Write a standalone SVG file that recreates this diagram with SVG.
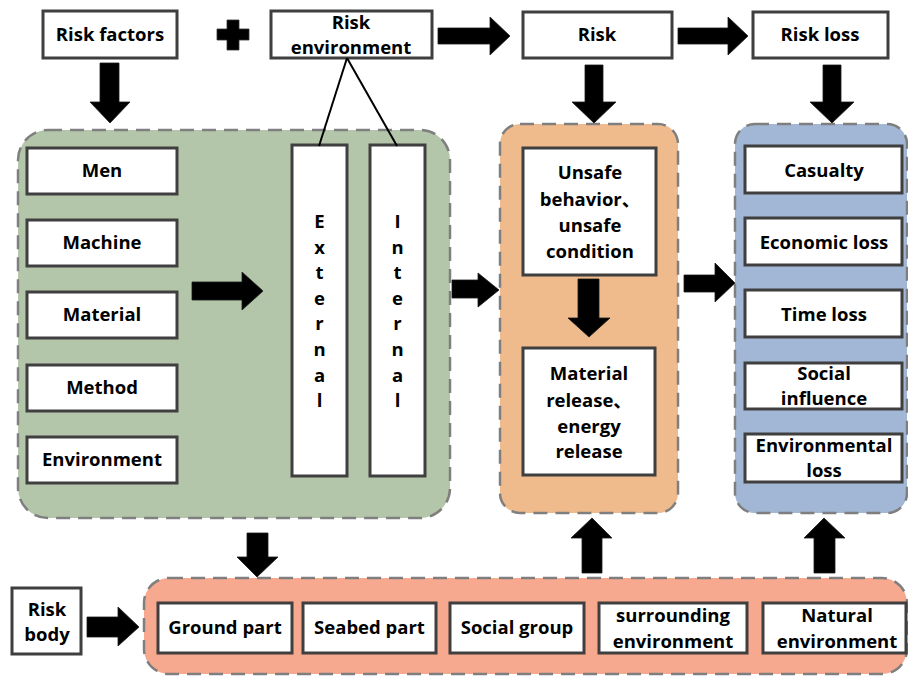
<svg xmlns="http://www.w3.org/2000/svg" width="908" height="676" viewBox="0 0 908 676">
  <style>
    .box { fill: #ffffff; stroke: #3f3f3f; stroke-width: 3; }
    .panel { stroke: #7f7f7f; stroke-width: 2.5; stroke-dasharray: 14 8; }
    .arrow { fill: #000000; stroke: #1a1a1a; stroke-width: 0.8; stroke-linejoin: miter; }
    .link { fill: none; stroke: #000000; stroke-width: 2; }
    text { font-family: "Open Sans", "Noto Sans CJK SC", sans-serif; font-weight: bold; font-size: 18.5px; fill: #000000; text-anchor: middle; }
  </style>

  <rect x="0" y="0" width="908" height="676" fill="#ffffff"/>

  <!-- background panels -->
  <g id="panel-factors">
    <rect class="panel" x="18" y="130" width="432" height="388" rx="30" fill="#b4c6aa"/>
  </g>
  <g id="panel-risk">
    <rect class="panel" x="500" y="124" width="178" height="389" rx="20" fill="#f0bb8c"/>
  </g>
  <g id="panel-loss">
    <rect class="panel" x="735" y="124" width="172" height="389" rx="20" fill="#a2b7d5"/>
  </g>
  <g id="panel-body">
    <rect class="panel" x="144" y="578" width="763" height="96" rx="25" fill="#f7a98f"/>
  </g>

  <!-- top row -->
  <g id="risk-factors">
    <rect class="box" x="43" y="11" width="134" height="47"/>
    <text x="110" y="41">Risk factors</text>
  </g>
  <g id="plus">
    <path d="M227 20 H239 V29 H249 V40 H239 V50 H227 V40 H217 V29 H227 Z" fill="#000000" stroke="#333333" stroke-width="0.8"/>
  </g>
  <g id="risk-environment">
    <rect class="box" x="271" y="11" width="161" height="47"/>
    <text x="351" y="29">Risk</text>
    <text x="351" y="54">environment</text>
  </g>
  <g id="risk">
    <rect class="box" x="523" y="12" width="149" height="46"/>
    <text x="597" y="41">Risk</text>
  </g>
  <g id="risk-loss">
    <rect class="box" x="753" y="12" width="135" height="46"/>
    <text x="820" y="41">Risk loss</text>
  </g>

  <!-- risk factors -->
  <g id="men">
    <rect class="box" x="27" y="148" width="150" height="46"/>
    <text x="102" y="177">Men</text>
  </g>
  <g id="machine">
    <rect class="box" x="27" y="220" width="150" height="46"/>
    <text x="102" y="249">Machine</text>
  </g>
  <g id="material">
    <rect class="box" x="27" y="292" width="150" height="46"/>
    <text x="102" y="321">Material</text>
  </g>
  <g id="method">
    <rect class="box" x="27" y="365" width="150" height="46"/>
    <text x="102" y="394">Method</text>
  </g>
  <g id="environment">
    <rect class="box" x="27" y="437" width="150" height="46"/>
    <text x="102" y="466">Environment</text>
  </g>

  <!-- risk environment split -->
  <g id="external">
    <rect class="box" x="292" y="145" width="55" height="331"/>
    <text>
      <tspan x="319.5" y="228">E</tspan><tspan x="319.5" y="253.6">x</tspan><tspan x="319.5" y="279.2">t</tspan><tspan x="319.5" y="304.8">e</tspan><tspan x="319.5" y="330.4">r</tspan><tspan x="319.5" y="356">n</tspan><tspan x="319.5" y="381.6">a</tspan><tspan x="319.5" y="407.2">l</tspan>
    </text>
  </g>
  <g id="internal">
    <rect class="box" x="370" y="145" width="55" height="331"/>
    <text>
      <tspan x="397.5" y="228">I</tspan><tspan x="397.5" y="253.6">n</tspan><tspan x="397.5" y="279.2">t</tspan><tspan x="397.5" y="304.8">e</tspan><tspan x="397.5" y="330.4">r</tspan><tspan x="397.5" y="356">n</tspan><tspan x="397.5" y="381.6">a</tspan><tspan x="397.5" y="407.2">l</tspan>
    </text>
  </g>

  <!-- risk -->
  <g id="unsafe">
    <rect class="box" x="523" y="148" width="133" height="127"/>
    <text x="590" y="179">Unsafe</text>
    <text x="590" y="206">behavior、</text>
    <text x="590" y="232">unsafe</text>
    <text x="590" y="258">condition</text>
  </g>
  <g id="release">
    <rect class="box" x="523" y="348" width="132" height="127"/>
    <text x="589" y="380">Material</text>
    <text x="589" y="407">release、</text>
    <text x="589" y="433">energy</text>
    <text x="589" y="458">release</text>
  </g>

  <!-- risk loss -->
  <g id="casualty">
    <rect class="box" x="745" y="146" width="157" height="47"/>
    <text x="824" y="177">Casualty</text>
  </g>
  <g id="economic-loss">
    <rect class="box" x="745" y="218" width="157" height="47"/>
    <text x="824" y="249">Economic loss</text>
  </g>
  <g id="time-loss">
    <rect class="box" x="745" y="290" width="157" height="47"/>
    <text x="824" y="321">Time loss</text>
  </g>
  <g id="social-influence">
    <rect class="box" x="745" y="363" width="157" height="46"/>
    <text x="824" y="380">Social</text>
    <text x="824" y="405">influence</text>
  </g>
  <g id="environmental-loss">
    <rect class="box" x="745" y="434" width="157" height="48"/>
    <text x="824" y="452">Environmental</text>
    <text x="824" y="477">loss</text>
  </g>

  <!-- risk body -->
  <g id="risk-body">
    <rect class="box" x="12" y="588" width="69" height="66"/>
    <text x="47" y="616">Risk</text>
    <text x="47" y="641">body</text>
  </g>
  <g id="ground-part">
    <rect class="box" x="158" y="603" width="134" height="50"/>
    <text x="225" y="634">Ground part</text>
  </g>
  <g id="seabed-part">
    <rect class="box" x="303" y="603" width="133" height="50"/>
    <text x="369.5" y="634">Seabed part</text>
  </g>
  <g id="social-group">
    <rect class="box" x="450" y="603" width="134" height="50"/>
    <text x="517" y="634">Social group</text>
  </g>
  <g id="surrounding-environment">
    <rect class="box" x="599" y="603" width="148" height="50"/>
    <text x="673" y="622">surrounding</text>
    <text x="673" y="648">environment</text>
  </g>
  <g id="natural-environment">
    <rect class="box" x="763" y="603" width="143" height="50"/>
    <text x="837" y="622">Natural</text>
    <text x="837" y="648">environment</text>
  </g>

  <!-- connectors -->
  <g id="connectors">
    <line class="link" x1="347" y1="58" x2="319" y2="146"/>
    <line class="link" x1="347" y1="58" x2="397" y2="146"/>
    <polygon class="arrow" points="438,28 490,28 490,17 510,36 490,55 490,44 438,44"/>
    <polygon class="arrow" points="678,28 728,28 728,17 748,36 728,55 728,44 678,44"/>
    <polygon class="arrow" points="100,63 119,63 119,102 130,102 110,123 90,102 100,102"/>
    <polygon class="arrow" points="585,65 603,65 603,102 616,102 594,123 572,102 585,102"/>
    <polygon class="arrow" points="823,65 841,65 841,102 854,102 832,123 810,102 823,102"/>
    <polygon class="arrow" points="192,282 242,282 242,272 263,291 242,310 242,300 192,300"/>
    <polygon class="arrow" points="452,280 478,280 478,273 499,290 478,307 478,298 452,298"/>
    <polygon class="arrow" points="578,279 599,279 599,318 610,318 589,337 568,318 578,318"/>
    <polygon class="arrow" points="684,275 715,275 715,263 735,283 715,302 715,292 684,292"/>
    <polygon class="arrow" points="247,533 268,533 268,557 278,557 257,577 237,557 247,557"/>
    <polygon class="arrow" points="87,617 118,617 118,607 139,627 118,646 118,637 87,637"/>
    <polygon class="arrow" points="582,573 602,573 602,538 612,538 592,518 571,538 582,538"/>
    <polygon class="arrow" points="814,573 835,573 835,538 845,538 824,518 804,538 814,538"/>
  </g>
</svg>
